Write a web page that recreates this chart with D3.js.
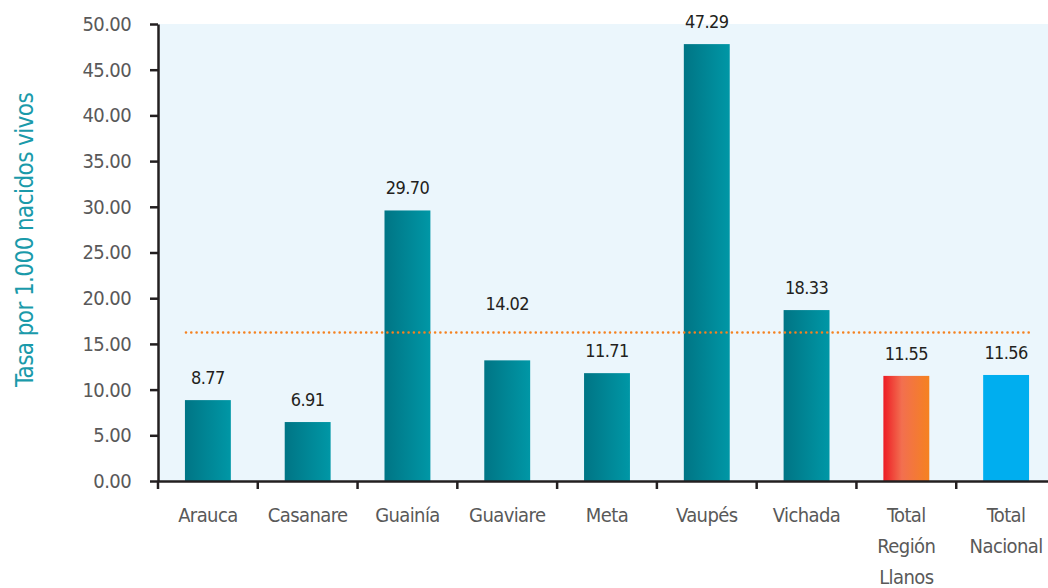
<!DOCTYPE html>
<html>
<head>
  <meta charset="utf-8">
  <script src="https://d3js.org/d3.v7.min.js"></script>
  <style>
    body { margin: 0; background: #fff; font-family: 'Liberation Sans Narrow', 'DejaVu Sans Condensed', sans-serif; }
    text { letter-spacing: -0.6px; }
  </style>
</head>
<body>
  <div id="my_dataviz"></div>
  <script>
    // data
    var categories = ["Arauca", "Casanare", "Guainía", "Guaviare", "Meta", "Vaupés", "Vichada", "Total Región Llanos", "Total Nacional"];
    var barValues = [8.85, 6.45, 29.6, 13.2, 11.8, 47.8, 18.7, 11.5, 11.6];
    var valueLabels = ["8.77", "6.91", "29.70", "14.02", "11.71", "47.29", "18.33", "11.55", "11.56"];
    var yTicks = [0, 5, 10, 15, 20, 25, 30, 35, 40, 45, 50];
    var refLine = 16.25;

    var W = 1048, H = 588;
    var plotLeft = 158, plotRight = 1056, plotTop = 24, plotBottom = 481;

    var svg = d3.select("#my_dataviz")
      .append("svg")
      .attr("width", W)
      .attr("height", H);

    var defs = svg.append("defs");
    var gTeal = defs.append("linearGradient").attr("id", "gTeal");
    gTeal.append("stop").attr("offset", "0%").attr("stop-color", "#007585");
    gTeal.append("stop").attr("offset", "100%").attr("stop-color", "#0097a6");
    var gRed = defs.append("linearGradient").attr("id", "gRed");
    gRed.append("stop").attr("offset", "0%").attr("stop-color", "#ed1c24");
    gRed.append("stop").attr("offset", "40%").attr("stop-color", "#f26f50");
    gRed.append("stop").attr("offset", "100%").attr("stop-color", "#f58220");

    var x = d3.scaleBand()
      .domain(categories)
      .range([plotLeft, plotRight])
      .paddingInner(0.54)
      .paddingOuter(0.27);

    var y = d3.scaleLinear()
      .domain([0, 50])
      .range([plotBottom, plotTop]);

    // plot background
    svg.append("rect")
      .attr("x", plotLeft)
      .attr("y", plotTop)
      .attr("width", W - plotLeft)
      .attr("height", plotBottom - plotTop)
      .attr("fill", "#ebf6fc");

    // bars
    svg.selectAll("mybar")
      .data(barValues)
      .enter()
      .append("rect")
      .attr("x", function (d, i) { return x(categories[i]); })
      .attr("y", function (d) { return y(d); })
      .attr("width", x.bandwidth())
      .attr("height", function (d) { return plotBottom - y(d); })
      .attr("fill", function (d, i) {
        if (i == 7) return "url(#gRed)";
        if (i == 8) return "#00aeef";
        return "url(#gTeal)";
      });

    // dotted reference line
    svg.append("line")
      .attr("x1", x(categories[0]) + 1)
      .attr("x2", x(categories[8]) + x.bandwidth())
      .attr("y1", y(refLine))
      .attr("y2", y(refLine))
      .attr("stroke", "#f58220")
      .attr("stroke-width", 2.5)
      .attr("stroke-linecap", "round")
      .attr("stroke-dasharray", "0.1 5.2");

    // value labels
    svg.selectAll("vlabel")
      .data(barValues)
      .enter()
      .append("text")
      .attr("x", function (d, i) { return x(categories[i]) + x.bandwidth() / 2; })
      .attr("y", function (d) {
        var yy = y(d) - 16;
        // move the label above the dotted line when they would collide
        if (Math.abs(yy - 6 - y(refLine)) < 14) yy = y(refLine) - 22;
        return yy;
      })
      .attr("text-anchor", "middle")
      .style("font-size", "18px")
      .attr("fill", "#231f20")
      .text(function (d, i) { return valueLabels[i]; });

    // Y axis
    var yAxis = svg.append("g")
      .attr("transform", "translate(" + plotLeft + ",0)")
      .call(d3.axisLeft(y).tickValues(yTicks).tickSize(8).tickSizeOuter(0)
        .tickFormat(function (d) { return d3.format(".2f")(d); }));
    yAxis.select(".domain").attr("stroke", "#231f20").attr("stroke-width", 2.5);
    yAxis.selectAll(".tick line").attr("stroke", "#231f20").attr("stroke-width", 2.5);
    yAxis.selectAll(".tick text")
      .attr("x", -27)
      .attr("fill", "#595959")
      .style("font-size", "20px")
      .style("font-family", "'Liberation Sans Narrow', 'DejaVu Sans Condensed', sans-serif");

    // X axis
    var xAxis = svg.append("g")
      .attr("transform", "translate(0," + plotBottom + ")")
      .call(d3.axisBottom(x).tickSize(0).tickSizeOuter(0));
    xAxis.select(".domain").attr("stroke", "#231f20").attr("stroke-width", 2.5);
    xAxis.selectAll(".tick text").remove();

    // category boundary ticks
    var step = x.step();
    xAxis.selectAll("sep")
      .data(categories)
      .enter()
      .append("line")
      .attr("x1", function (d) { return x(d) + x.bandwidth() / 2 - step / 2; })
      .attr("x2", function (d) { return x(d) + x.bandwidth() / 2 - step / 2; })
      .attr("y1", 0)
      .attr("y2", 8)
      .attr("stroke", "#231f20")
      .attr("stroke-width", 2.5);

    // category labels, wrapped like the original
    var wrapped = {
      "Total Región Llanos": ["Total", "Región", "Llanos"],
      "Total Nacional": ["Total", "Nacional"]
    };
    categories.forEach(function (c) {
      var lines = wrapped[c] || [c];
      var t = svg.append("text")
        .attr("x", x(c) + x.bandwidth() / 2)
        .attr("y", 522)
        .attr("text-anchor", "middle")
        .attr("fill", "#595959")
        .style("font-size", "20px");
      lines.forEach(function (l, k) {
        t.append("tspan")
          .attr("x", x(c) + x.bandwidth() / 2)
          .attr("dy", k == 0 ? 0 : 31)
          .text(l);
      });
    });

    // Y axis title
    svg.append("text")
      .attr("transform", "translate(33,240) rotate(-90)")
      .attr("text-anchor", "middle")
      .attr("fill", "#1a9aaa")
      .style("font-size", "24px")
      .text("Tasa por 1.000 nacidos vivos");
  </script>
</body>
</html>
